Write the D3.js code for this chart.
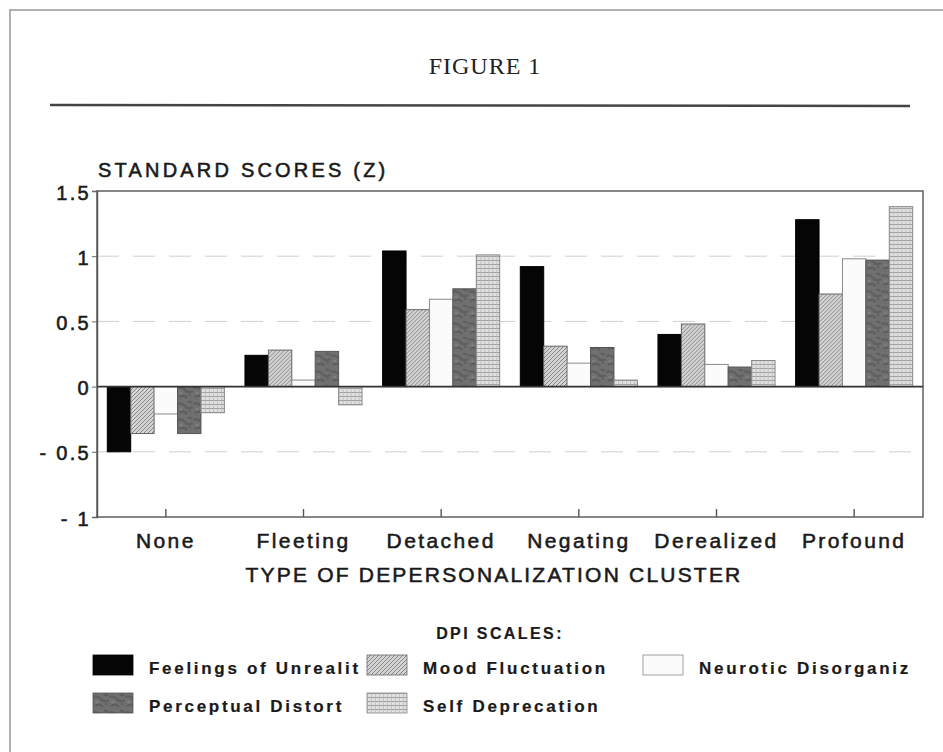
<!DOCTYPE html>
<html lang="en">
<head>
<meta charset="utf-8">
<title>Figure 1 - DPI scales by depersonalization cluster</title>
<script src="https://cdn.jsdelivr.net/npm/d3@7"></script>
<style>
  body { margin: 0; background: #fff; }
  svg { display: block; }
  .sans { font-family: "Liberation Sans", Arial, Helvetica, sans-serif; fill: #1a1a1a; stroke: #1a1a1a; stroke-width: 0.55px; }
  .grid { stroke: #cfcfcf; stroke-width: 1; stroke-dasharray: 22 14; }
</style>
</head>
<body>
<script>
  // categories and series
  const clusters = ["None", "Fleeting", "Detached", "Negating", "Derealized", "Profound"]
  const scales = ["Feelings of Unrealit", "Mood Fluctuation", "Neurotic Disorganiz", "Perceptual Distort", "Self Deprecation"]
  const unreality   = [-0.50, 0.24, 1.04, 0.92, 0.40, 1.28]
  const mood        = [-0.36, 0.28, 0.59, 0.31, 0.48, 0.71]
  const neurotic    = [-0.21, 0.05, 0.67, 0.18, 0.17, 0.98]
  const perceptual  = [-0.36, 0.27, 0.75, 0.30, 0.15, 0.97]
  const selfDeprec  = [-0.20, -0.14, 1.01, 0.05, 0.20, 1.38]
  const yTicks = [-1, -0.5, 0, 0.5, 1, 1.5]
  const gridTicks = [-0.5, 0.5, 1]

  const series = [unreality, mood, neurotic, perceptual, selfDeprec]
  const rows = clusters.map((c, i) => ({ cluster: c, values: scales.map((s, j) => ({ key: s, value: series[j][i] })) }))

  const width = 943, height = 752
  const plotLeft = 97, plotRight = 923, plotTop = 191, plotBottom = 517

  const svg = d3.select("body").append("svg").attr("width", width).attr("height", height)

  // patterns for the five fills
  const defs = svg.append("defs")
  const moodP = defs.append("pattern").attr("id", "p-mood").attr("patternUnits", "userSpaceOnUse").attr("width", 4).attr("height", 4)
  moodP.append("rect").attr("width", 4).attr("height", 4).attr("fill", "#d4d4d4")
  moodP.append("path").attr("d", "M-1,1 l2,-2 M0,4 l4,-4 M3,5 l2,-2").attr("stroke", "#7c7c7c").attr("stroke-width", 0.9)

  const percP = defs.append("pattern").attr("id", "p-perc").attr("patternUnits", "userSpaceOnUse").attr("width", 16).attr("height", 16)
  percP.append("rect").attr("width", 16).attr("height", 16).attr("fill", "#707070")
  percP.append("path").attr("d", "M0,4 Q5,2 8,6 T16,7 M2,13 Q7,10 10,14 M11,1 Q13,3 15,2").attr("stroke", "#5e5e5e").attr("stroke-width", 2.2).attr("fill", "none")
  percP.append("circle").attr("cx", 4).attr("cy", 9).attr("r", 1.6).attr("fill", "#7e7e7e")
  percP.append("circle").attr("cx", 13).attr("cy", 11).attr("r", 1.3).attr("fill", "#606060")

  const selfP = defs.append("pattern").attr("id", "p-self").attr("patternUnits", "userSpaceOnUse").attr("width", 4).attr("height", 4)
  selfP.append("rect").attr("width", 4).attr("height", 4).attr("fill", "#e0e0e0")
  selfP.append("path").attr("d", "M0,0.5 H4").attr("stroke", "#9a9a9a").attr("stroke-width", 0.9)
  selfP.append("path").attr("d", "M0.5,0 V4").attr("stroke", "#b4b4b4").attr("stroke-width", 0.7)

  const fills = d3.scaleOrdinal().domain(scales)
    .range(["#050505", "url(#p-mood)", "#fbfbfb", "url(#p-perc)", "url(#p-self)"])
  const strokes = d3.scaleOrdinal().domain(scales)
    .range(["#000", "#666", "#8a8a8a", "#555", "#888"])

  // page frame and header
  svg.append("path").attr("d", `M10,${height} V10 H${width}`).attr("fill", "none").attr("stroke", "#b0b0b0").attr("stroke-width", 2)
  svg.append("text").attr("x", 485).attr("y", 74).attr("text-anchor", "middle")
    .style("font-family", "'Liberation Serif', 'Times New Roman', serif").style("font-size", "24px")
    .style("letter-spacing", "1px").attr("fill", "#222").text("FIGURE 1")
  svg.append("line").attr("x1", 50).attr("x2", 910).attr("y1", 105).attr("y2", 106)
    .attr("stroke", "#444").attr("stroke-width", 2.5)

  // scales
  const x0 = d3.scaleBand().domain(clusters).range([plotLeft, plotRight]).padding(0)
  const x1 = d3.scaleBand().domain(scales).range([0, x0.bandwidth()]).paddingInner(0).paddingOuter(0.44)
  const y = d3.scaleLinear().domain([-1, 1.5]).range([plotBottom, plotTop])

  // grid
  svg.append("g").selectAll("line").data(gridTicks).join("line").attr("class", "grid")
    .attr("x1", plotLeft).attr("x2", plotRight).attr("y1", d => y(d)).attr("y2", d => y(d))

  // frame of the plot
  svg.append("rect").attr("x", plotLeft).attr("y", plotTop).attr("width", plotRight - plotLeft).attr("height", plotBottom - plotTop)
    .attr("fill", "none").attr("stroke", "#555").attr("stroke-width", 1.4)

  // bars
  svg.append("g").selectAll("g").data(rows).join("g")
    .attr("transform", d => `translate(${x0(d.cluster)},0)`)
    .selectAll("rect").data(d => d.values).join("rect")
    .attr("x", d => x1(d.key))
    .attr("width", x1.bandwidth())
    .attr("y", d => y(Math.max(0, d.value)))
    .attr("height", d => Math.abs(y(d.value) - y(0)))
    .attr("fill", d => fills(d.key))
    .attr("stroke", d => strokes(d.key))
    .attr("stroke-width", 1)

  // zero line
  svg.append("line").attr("x1", plotLeft).attr("x2", plotRight).attr("y1", y(0)).attr("y2", y(0))
    .attr("stroke", "#333").attr("stroke-width", 1.6)

  // y axis
  const yAxis = svg.append("g").attr("transform", `translate(${plotLeft},0)`)
    .call(d3.axisLeft(y).tickValues(yTicks).tickSize(5).tickPadding(1)
      .tickFormat(d => d < 0 ? "- " + d3.format("")(-d) : d3.format("")(d)))
  yAxis.select(".domain").attr("stroke", "#555").attr("stroke-width", 1.4)
  yAxis.selectAll(".tick line").attr("stroke", "#666")
  yAxis.selectAll("text").attr("class", "sans").style("font-size", "20px").style("letter-spacing", "2.3px")
    .attr("dy", "0.4em")

  // x axis
  const xAxis = svg.append("g").attr("transform", `translate(0,${plotBottom})`)
    .call(d3.axisBottom(x0).tickSize(-8).tickPadding(16))
  xAxis.select(".domain").remove()
  xAxis.selectAll(".tick line").attr("stroke", "#555").attr("stroke-width", 1.4)
  xAxis.selectAll("text").attr("class", "sans").style("font-size", "21px").style("letter-spacing", "2.4px")

  // axis titles
  svg.append("text").attr("class", "sans").attr("x", 98).attr("y", 177)
    .style("font-size", "20px").style("letter-spacing", "3.2px").text("STANDARD SCORES (Z)")
  svg.append("text").attr("class", "sans").attr("x", 494).attr("y", 582).attr("text-anchor", "middle")
    .style("font-size", "21px").style("letter-spacing", "2.2px").text("TYPE OF DEPERSONALIZATION CLUSTER")

  // legend
  svg.append("text").attr("class", "sans").attr("x", 500).attr("y", 639).attr("text-anchor", "middle")
    .style("font-size", "16px").style("font-weight", "bold").style("stroke-width", "0.2px")
    .style("letter-spacing", "2.4px").text("DPI SCALES:")

  const legendPos = [[93, 655], [367, 655], [643, 655], [93, 693], [367, 693]]
  const legend = svg.append("g").selectAll("g").data(scales).join("g")
    .attr("transform", (d, i) => `translate(${legendPos[i][0]},${legendPos[i][1]})`)
  legend.append("rect").attr("width", 40).attr("height", 20)
    .attr("fill", d => fills(d)).attr("stroke", d => strokes(d)).attr("stroke-width", 0.8)
  legend.append("text").attr("class", "sans").attr("x", 56).attr("y", 19)
    .style("font-size", "17px").style("font-weight", "bold").style("stroke-width", "0.2px")
    .style("letter-spacing", "2.7px").text(d => d)
</script>
</body>
</html>
